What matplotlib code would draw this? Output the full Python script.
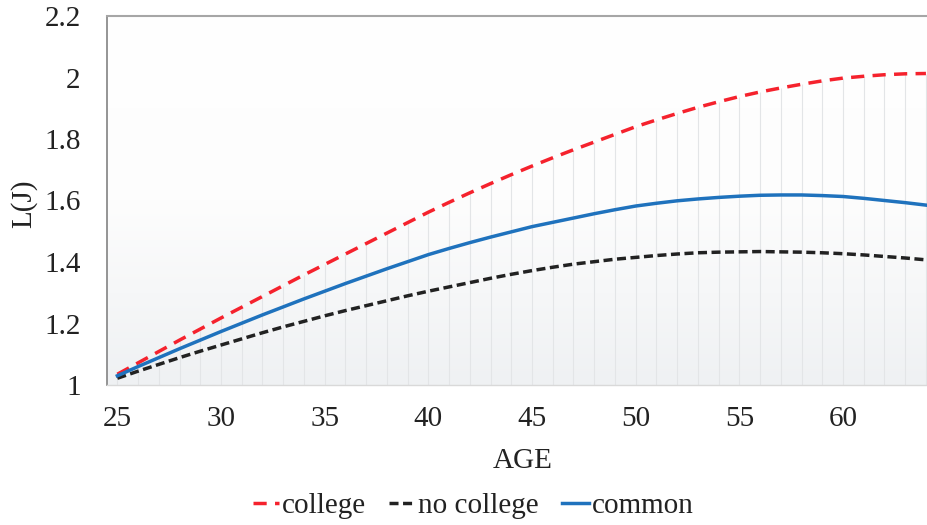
import matplotlib
matplotlib.use('Agg')
import matplotlib.pyplot as plt
import numpy as np
from matplotlib.colors import LinearSegmentedColormap

ages = list(range(25, 65))
college = [1.035, 1.072, 1.109, 1.146, 1.182, 1.218, 1.253, 1.288, 1.323, 1.358,
           1.392, 1.426, 1.460, 1.494, 1.528, 1.562, 1.594, 1.625, 1.655, 1.684,
           1.712, 1.739, 1.765, 1.790, 1.815, 1.840, 1.862, 1.883, 1.903, 1.921,
           1.938, 1.953, 1.966, 1.978, 1.989, 1.998, 2.004, 2.009, 2.012, 2.013]
no_college = [1.022, 1.045, 1.067, 1.089, 1.110, 1.130, 1.150, 1.170, 1.189, 1.207,
              1.225, 1.242, 1.258, 1.274, 1.290, 1.305, 1.319, 1.333, 1.347, 1.360,
              1.372, 1.383, 1.393, 1.401, 1.409, 1.415, 1.421, 1.426, 1.430, 1.432,
              1.433, 1.434, 1.433, 1.432, 1.430, 1.427, 1.423, 1.418, 1.413, 1.407]
common = [1.030, 1.060, 1.089, 1.118, 1.146, 1.174, 1.201, 1.228, 1.254, 1.280,
          1.305, 1.330, 1.354, 1.378, 1.401, 1.424, 1.444, 1.463, 1.481, 1.498,
          1.515, 1.529, 1.543, 1.557, 1.570, 1.582, 1.591, 1.599, 1.605, 1.610,
          1.614, 1.617, 1.618, 1.618, 1.616, 1.613, 1.607, 1.600, 1.593, 1.585]
x_ticks = [25, 30, 35, 40, 45, 50, 55, 60]
y_ticks = [1, 1.2, 1.4, 1.6, 1.8, 2, 2.2]
y_labels = ['1', '1.2', '1.4', '1.6', '1.8', '2', '2.2']

plt.rcParams['font.family'] = ['Liberation Serif', 'DejaVu Serif']
FS = 21

fig = plt.figure(figsize=(9.28, 5.25), dpi=100)
ax = fig.add_axes([107 / 928, 1 - 385 / 525, 1 - 107 / 928, (385 - 16) / 525])

x0, x1 = 24.5, 64.1
ax.set_xlim(x0, x1)
ax.set_ylim(1, 2.2)

# soft vertical gradient behind the lines (white at top, light grey at bottom)
cmap = LinearSegmentedColormap.from_list('bg', ['#ffffff', '#fdfdfd', '#eff1f3'])
grad = np.linspace(0, 1, 256).reshape(-1, 1)
ax.imshow(grad, cmap=cmap, aspect='auto', extent=(x0, x1, 1, 2.2), zorder=0)

# faint seams of the area fill under the college curve
ax.vlines(ages, 1, college, color='#e3e5e7', lw=0.8, zorder=1)

ax.plot(ages, college, color='#f5222d', lw=2.5, dashes=(3.8, 2.4), label='college', zorder=3)
ax.plot(ages, no_college, color='#222222', lw=2.5, dashes=(2.6, 1.3), label='no college', zorder=3)
ax.plot(ages, common, color='#1f72bd', lw=2.5, label='common', zorder=3)

ax.set_xticks(x_ticks)
ax.set_yticks(y_ticks)
ax.set_yticklabels(y_labels)
ax.tick_params(axis='both', length=0, labelsize=FS, colors='#222222')
ax.tick_params(axis='x', pad=15)
ax.tick_params(axis='y', pad=19)

ax.spines['right'].set_visible(False)
ax.spines['left'].set_color('#8c8c8c')
ax.spines['left'].set_linewidth(1.3)
ax.spines['top'].set_color('#a6a6a6')
ax.spines['top'].set_linewidth(1.5)
ax.spines['bottom'].set_color('#d9d9d9')
ax.spines['bottom'].set_linewidth(1.0)

fig.text(523 / 928, 1 - 461 / 525, 'AGE', ha='center', va='center', fontsize=FS, color='#222222')
fig.text(24 / 928, 1 - 204 / 525, 'L(J)', ha='center', va='center', rotation=90,
         fontsize=FS, color='#222222')

fig.legend(loc='center', bbox_to_anchor=(473 / 928, 1 - 506 / 525), ncol=3, frameon=False,
           fontsize=FS, handlelength=0.9, handletextpad=0.1, columnspacing=0.8,
           labelcolor='#222222')

plt.savefig('out.png', dpi=100)
